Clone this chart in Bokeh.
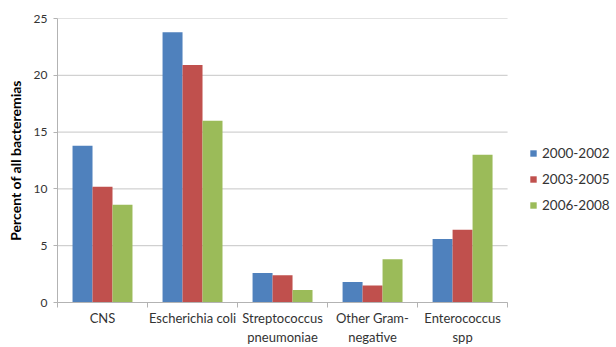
from bokeh.plotting import figure
from bokeh.models import (Range1d, FixedTicker, Legend, LegendItem,
                          ColumnDataSource)
from bokeh.embed import file_html
from bokeh.resources import INLINE

# Share of all bacteremias (%) by organism and period
categories = ["CNS", "Escherichia coli", "Streptococcus\npneumoniae",
              "Other Gram-\nnegative", "Enterococcus\nspp"]
periods = ["2000-2002", "2003-2005", "2006-2008"]
v_2000_2002 = [13.8, 23.8, 2.6, 1.8, 5.6]
v_2003_2005 = [10.2, 20.9, 2.4, 1.5, 6.4]
v_2006_2008 = [8.6, 16.0, 1.1, 3.8, 13.0]
y_ticks = [0, 5, 10, 15, 20, 25]

series = [v_2000_2002, v_2003_2005, v_2006_2008]
colors = ["#4F81BD", "#C0504D", "#9BBB59"]

FONT = "Lato"
BAR_W = 0.222
AXIS_C = "#B3B3B3"
n = len(categories)

# the frame runs to the right edge so the legend can sit beside the bars
p = figure(width=616, height=347, output_backend="svg", toolbar_location=None,
           x_range=Range1d(0, n + 1.21), y_range=Range1d(0, 25),
           min_border_left=57, min_border_right=0,
           min_border_top=18, min_border_bottom=45)
p.outline_line_color = None
p.background_fill_color = "white"
p.border_fill_color = "white"
p.xgrid.grid_line_color = None
p.ygrid.grid_line_color = None

# horizontal gridlines over the category area only
p.segment(x0=[0] * len(y_ticks), x1=[n] * len(y_ticks), y0=y_ticks, y1=y_ticks,
          line_color="#C6C6C6", line_width=1)

items = []
for i, (vals, col, name) in enumerate(zip(series, colors, periods)):
    xs = [k + 0.5 + (i - 1) * BAR_W for k in range(n)]
    src = ColumnDataSource(dict(x=xs, top=vals))
    r = p.vbar(x="x", top="top", width=BAR_W, bottom=0, source=src,
               fill_color=col, line_color=None)
    items.append(LegendItem(label=name, renderers=[r]))

# y axis
p.yaxis.ticker = FixedTicker(ticks=y_ticks)
p.yaxis.axis_line_color = AXIS_C
p.yaxis.major_tick_line_color = AXIS_C
p.yaxis.major_tick_out = 4
p.yaxis.major_tick_in = 0
p.yaxis.minor_tick_line_color = None
p.yaxis.major_label_standoff = 6
p.yaxis.major_label_text_font = FONT
p.yaxis.major_label_text_font_size = "12px"
p.yaxis.major_label_text_color = "#333333"
p.yaxis.axis_label = "Percent of all bacteremias"
p.yaxis.axis_label_text_font = FONT
p.yaxis.axis_label_text_font_size = "14px"
p.yaxis.axis_label_text_font_style = "bold"
p.yaxis.axis_label_text_color = "#000000"
p.yaxis.axis_label_standoff = 7

# x axis: tick marks between categories, names under each group
centers = [k + 0.5 for k in range(n)]
p.xaxis.bounds = (0, n)
p.xaxis.ticker = FixedTicker(ticks=centers, minor_ticks=list(range(n + 1)))
p.xaxis.major_label_overrides = {c: name for c, name in zip(centers, categories)}
p.xaxis.axis_line_color = AXIS_C
p.xaxis.major_tick_line_color = None
p.xaxis.major_tick_out = 0
p.xaxis.major_tick_in = 0
p.xaxis.minor_tick_line_color = AXIS_C
p.xaxis.minor_tick_out = 5
p.xaxis.minor_tick_in = 0
p.xaxis.major_label_standoff = 2
p.xaxis.major_label_text_font = FONT
p.xaxis.major_label_text_font_size = "13px"
p.xaxis.major_label_text_color = "#333333"

legend = Legend(items=items, location=(472, 87),
                glyph_width=8, glyph_height=8, label_standoff=5,
                label_height=20, spacing=6, padding=0, margin=0,
                label_text_font=FONT, label_text_font_size="13.5px",
                label_text_color="#333333",
                border_line_color=None, background_fill_alpha=0)
p.add_layout(legend, "center")

open("out.html", "w").write(file_html(p, INLINE))
